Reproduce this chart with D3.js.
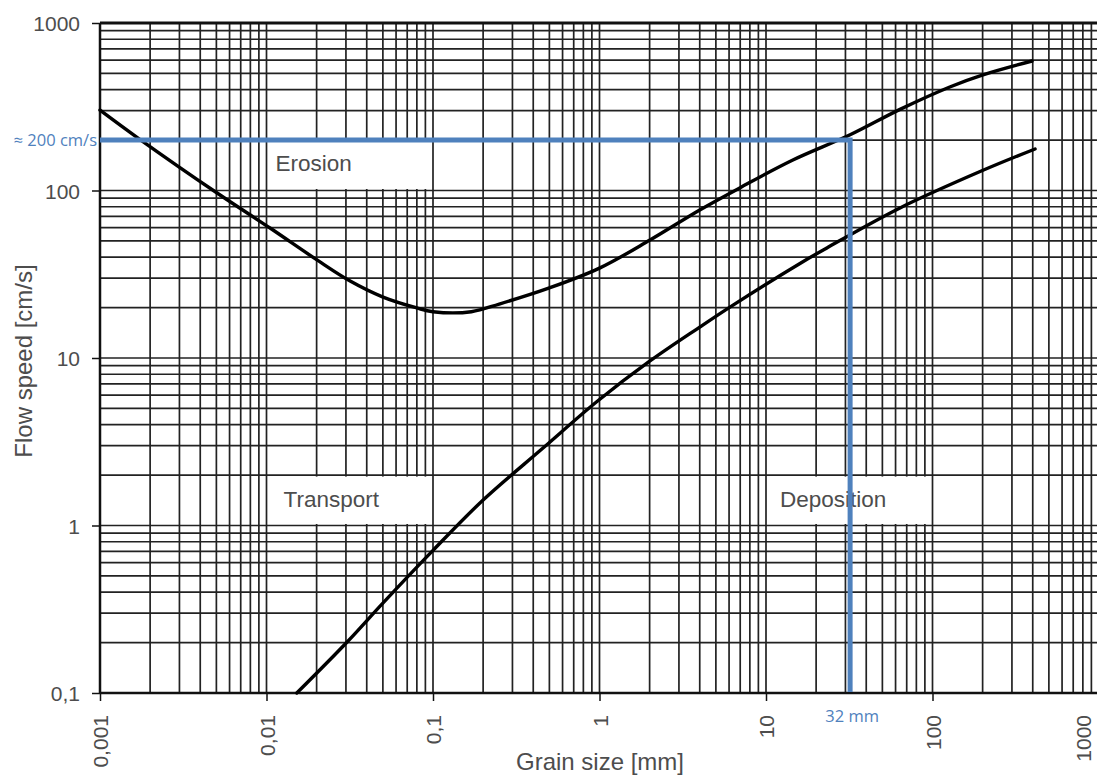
<!DOCTYPE html>
<html>
<head>
<meta charset="utf-8">
<script src="https://cdn.jsdelivr.net/npm/d3@7"></script>
<style>
  html, body { margin: 0; padding: 0; background: #fff; overflow: hidden; }
  svg { display: block; }
</style>
</head>
<body>
<svg id="chart" width="1097" height="775"></svg>
<script>
// ---- data ----
const xTickValues = [0.001, 0.01, 0.1, 1, 10, 100, 1000];
const xTickLabels = ["0,001", "0,01", "0,1", "1", "10", "100", "1000"];
const yTickValues = [0.1, 1, 10, 100, 1000];
const yTickLabels = ["0,1", "1", "10", "100", "1000"];

const erosionSize  = [0.001, 0.0017, 0.00505, 0.0105, 0.0201, 0.0318, 0.0501, 0.08, 0.1, 0.17, 0.25, 0.5, 1.0, 2.01, 4.0, 7.0, 14.5, 32, 63.8, 127, 201, 396];
const erosionSpeed = [302, 205, 96.6, 59.7, 38.5, 28.8, 23.1, 19.9, 18.9, 18.9, 21.0, 26.2, 34.4, 50.6, 76.5, 104, 152, 215, 305, 415, 490, 593];

const depositionSize  = [0.0152, 0.0304, 0.05, 0.1, 0.2, 0.458, 0.966, 2.01, 4.0, 6.34, 16.0, 23.2, 63.8, 201, 413];
const depositionSpeed = [0.1, 0.201, 0.344, 0.71, 1.42, 2.9, 5.5, 9.6, 15.3, 20.7, 36.7, 45.4, 78.7, 132, 177];

const regionNames = ["Erosion", "Transport", "Deposition"];
const regionX0 = [0.01, 0.01, 10];
const regionX1 = [0.1, 0.1, 100];
const regionY0 = [100, 1, 1];
const regionY1 = [200, 2, 2];

const markSize = 32;      // mm
const markSpeed = 200;    // cm/s
const markSizeLabel = "32 mm";
const markSpeedLabel = "≈ 200 cm/s";

const xTitle = "Grain size [mm]";
const yTitle = "Flow speed [cm/s]";

// ---- layout ----
const mLeft = 100, mTop = 23, mRight = 1099, mBottom = 693;
const svg = d3.select("#chart");

const x = d3.scaleLog().domain([0.001, 1000]).range([mLeft, mRight]);
const y = d3.scaleLog().domain([0.1, 1000]).range([mBottom, mTop]);

const gridColor = "#222";
const textColor = "#4d4d4d";
const blue = "#4f81bd";

// grid values (1..9 per decade)
function logGrid(lo, hi) {
  const out = [];
  for (let e = Math.round(Math.log10(lo)); e < Math.round(Math.log10(hi)); e++) {
    for (let k = 1; k <= 9; k++) out.push(k * Math.pow(10, e));
  }
  out.push(hi);
  return out;
}
const xGrid = logGrid(0.001, 1000);
const yGrid = logGrid(0.1, 1000);

const g = svg.append("g");

// vertical grid
g.append("g").selectAll("line").data(xGrid).join("line")
  .attr("x1", d => x(d)).attr("x2", d => x(d))
  .attr("y1", mTop).attr("y2", mBottom)
  .attr("stroke", gridColor).attr("stroke-width", 1.7);

// horizontal grid
g.append("g").selectAll("line").data(yGrid).join("line")
  .attr("x1", mLeft).attr("x2", 1097)
  .attr("y1", d => y(d)).attr("y2", d => y(d))
  .attr("stroke", gridColor).attr("stroke-width", 1.7);

// frame lines
g.append("line").attr("x1", mLeft).attr("x2", 1097).attr("y1", mTop).attr("y2", mTop)
  .attr("stroke", "#111").attr("stroke-width", 3);
g.append("line").attr("x1", mLeft).attr("x2", 1097).attr("y1", mBottom).attr("y2", mBottom)
  .attr("stroke", "#111").attr("stroke-width", 2.5);
g.append("line").attr("x1", mLeft).attr("x2", mLeft).attr("y1", mTop).attr("y2", mBottom)
  .attr("stroke", "#111").attr("stroke-width", 2.5);

// region label boxes
const regions = regionNames.map((n, i) => ({ n, x0: regionX0[i], x1: regionX1[i], y0: regionY0[i], y1: regionY1[i] }));
g.append("g").selectAll("rect").data(regions).join("rect")
  .attr("x", d => x(d.x0) + 1.5)
  .attr("width", d => x(d.x1) - x(d.x0) - 3)
  .attr("y", d => y(d.y1) + 1.5)
  .attr("height", d => y(d.y0) - y(d.y1) - 3)
  .attr("fill", "#fff");

g.append("g").selectAll("text").data(regions).join("text")
  .attr("x", d => x(d.x0) + (d.n === "Erosion" ? 9 : (d.n === "Transport" ? 17 : 14)))
  .attr("y", d => y(d.y0) - (d.n === "Erosion" ? 20 : 19))
  .attr("font-family", "Liberation Sans, Arial, sans-serif")
  .attr("font-size", 22.5)
  .attr("fill", textColor)
  .text(d => d.n);

// axes ticks
const xAxis = d3.axisBottom(x).tickValues(xTickValues).tickSize(8).tickFormat("");
const xa = svg.append("g").attr("transform", `translate(0,${mBottom})`).call(xAxis);
xa.select(".domain").remove();
xa.selectAll(".tick line").attr("stroke", "#111").attr("stroke-width", 1.5);

const yAxis = d3.axisLeft(y).tickValues(yTickValues).tickSize(8).tickFormat("");
const ya = svg.append("g").attr("transform", `translate(${mLeft},0)`).call(yAxis);
ya.select(".domain").remove();
ya.selectAll(".tick line").attr("stroke", "#111").attr("stroke-width", 1.5);

// x tick labels (rotated)
svg.append("g").selectAll("text").data(xTickValues).join("text")
  .attr("transform", (d) => `translate(${Math.min(x(d) + 8, 1091)},715) rotate(-90)`)
  .attr("text-anchor", "end")
  .attr("font-family", "Liberation Sans, Arial, sans-serif")
  .attr("font-size", 21)
  .attr("fill", textColor)
  .text((d, i) => xTickLabels[i]);

// y tick labels
svg.append("g").selectAll("text").data(yTickValues).join("text")
  .attr("x", 80)
  .attr("y", d => y(d) + 8)
  .attr("text-anchor", "end")
  .attr("font-family", "Liberation Sans, Arial, sans-serif")
  .attr("font-size", 21)
  .attr("fill", textColor)
  .text((d, i) => yTickLabels[i]);

// axis titles
svg.append("text")
  .attr("x", 600).attr("y", 770)
  .attr("text-anchor", "middle")
  .attr("font-family", "Liberation Sans, Arial, sans-serif")
  .attr("font-size", 24)
  .attr("fill", textColor)
  .text(xTitle);

svg.append("text")
  .attr("transform", "translate(32,361) rotate(-90)")
  .attr("text-anchor", "middle")
  .attr("font-family", "Liberation Sans, Arial, sans-serif")
  .attr("font-size", 24)
  .attr("fill", textColor)
  .text(yTitle);

// curves
const line = d3.line().x(d => x(d[0])).y(d => y(d[1])).curve(d3.curveCatmullRom.alpha(0.5));
const erosion = erosionSize.map((s, i) => [s, erosionSpeed[i]]);
const deposition = depositionSize.map((s, i) => [s, depositionSpeed[i]]);

svg.append("path").datum(erosion).attr("d", line)
  .attr("fill", "none").attr("stroke", "#000").attr("stroke-width", 3.4)
  .attr("stroke-linejoin", "round").attr("stroke-linecap", "round");
svg.append("path").datum(deposition).attr("d", line)
  .attr("fill", "none").attr("stroke", "#000").attr("stroke-width", 3.4)
  .attr("stroke-linejoin", "round").attr("stroke-linecap", "round");

// blue marker lines
svg.append("path")
  .attr("d", `M${mLeft},${y(markSpeed)} H${x(markSize)} V${mBottom - 1}`)
  .attr("fill", "none").attr("stroke", blue).attr("stroke-width", 5);

svg.append("text")
  .attr("x", 97).attr("y", y(markSpeed) + 6)
  .attr("text-anchor", "end")
  .attr("font-family", "Open Sans, sans-serif")
  .attr("font-size", 16.5)
  .attr("fill", blue)
  .text(markSpeedLabel);

svg.append("text")
  .attr("x", x(markSize) + 2).attr("y", 722)
  .attr("text-anchor", "middle")
  .attr("font-family", "Open Sans, sans-serif")
  .attr("font-size", 16.5)
  .attr("fill", blue)
  .text(markSizeLabel);
</script>
</body>
</html>
